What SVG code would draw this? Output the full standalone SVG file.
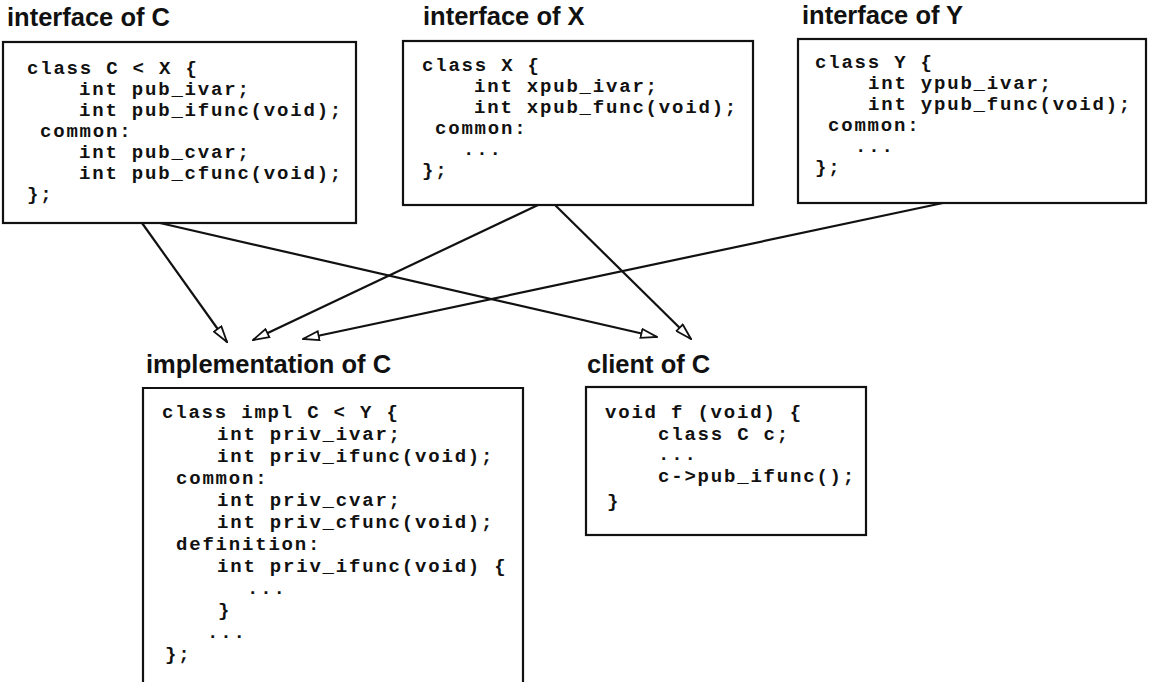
<svg xmlns="http://www.w3.org/2000/svg" width="1153" height="682" viewBox="0 0 1153 682">
<defs>
<style>
.box{fill:#fff;stroke:#111;stroke-width:2.2}
.lbl{font-family:"Liberation Sans",Arial,sans-serif;font-weight:bold;font-size:25.5px;fill:#111}
.code{font-family:"Liberation Mono","Courier New",monospace;font-weight:bold;font-size:19px;letter-spacing:1.8px;fill:#111;white-space:pre}
.conn{stroke:#111;stroke-width:2.2;fill:none;marker-end:url(#tri)}
</style>
<marker id="tri" markerUnits="userSpaceOnUse" viewBox="0 0 18 11" refX="17" refY="5.5" markerWidth="18" markerHeight="11" orient="auto">
<path d="M1,1 L17,5.5 L1,10 z" fill="#fff" stroke="#111" stroke-width="1.8"/>
</marker>
</defs>
<rect width="1153" height="682" fill="#fff"/>

<g id="connectors">
<line class="conn" x1="142" y1="223" x2="227" y2="342"/>
<line class="conn" x1="160" y1="223" x2="657" y2="337"/>
<line class="conn" x1="538" y1="205" x2="253" y2="340"/>
<line class="conn" x1="555" y1="205" x2="691" y2="339"/>
<line class="conn" x1="943" y1="203" x2="303" y2="339"/>
</g>

<g id="interfaceC">
<text class="lbl" x="7" y="26">interface of C</text>
<rect class="box" x="3" y="42" width="353" height="181"/>
<text class="code" x="27" y="74">class C &lt; X {</text>
<text class="code" x="79" y="95">int pub_ivar;</text>
<text class="code" x="79" y="116">int pub_ifunc(void);</text>
<text class="code" x="40" y="137">common:</text>
<text class="code" x="79" y="158">int pub_cvar;</text>
<text class="code" x="79" y="179">int pub_cfunc(void);</text>
<text class="code" x="27" y="200">};</text>
</g>

<g id="interfaceX">
<text class="lbl" x="423" y="25">interface of X</text>
<rect class="box" x="403" y="41" width="350" height="164"/>
<text class="code" x="422" y="71">class X {</text>
<text class="code" x="474" y="92">int xpub_ivar;</text>
<text class="code" x="474" y="113">int xpub_func(void);</text>
<text class="code" x="435" y="134">common:</text>
<text class="code" x="463" y="155">...</text>
<text class="code" x="422" y="176">};</text>
</g>

<g id="interfaceY">
<text class="lbl" x="802" y="24">interface of Y</text>
<rect class="box" x="798" y="39" width="348" height="164"/>
<text class="code" x="815" y="68">class Y {</text>
<text class="code" x="868" y="89">int ypub_ivar;</text>
<text class="code" x="868" y="110">int ypub_func(void);</text>
<text class="code" x="828" y="131">common:</text>
<text class="code" x="855" y="152">...</text>
<text class="code" x="815" y="173">};</text>
</g>

<g id="implementationC">
<text class="lbl" x="146" y="373">implementation of C</text>
<path class="box" d="M143,690 V388 H523 V690"/>
<text class="code" x="162" y="418">class impl C &lt; Y {</text>
<text class="code" x="217" y="440">int priv_ivar;</text>
<text class="code" x="217" y="462">int priv_ifunc(void);</text>
<text class="code" x="176" y="484">common:</text>
<text class="code" x="217" y="506">int priv_cvar;</text>
<text class="code" x="217" y="528">int priv_cfunc(void);</text>
<text class="code" x="176" y="550">definition:</text>
<text class="code" x="217" y="572">int priv_ifunc(void) {</text>
<text class="code" x="247" y="594">...</text>
<text class="code" x="218" y="616">}</text>
<text class="code" x="207" y="638">...</text>
<text class="code" x="165" y="660">};</text>
</g>

<g id="clientC">
<text class="lbl" x="587" y="373">client of C</text>
<rect class="box" x="586" y="387" width="280" height="148"/>
<text class="code" x="605" y="418">void f (void) {</text>
<text class="code" x="658" y="440">class C c;</text>
<text class="code" x="658" y="460">...</text>
<text class="code" x="658" y="482">c-&gt;pub_ifunc();</text>
<text class="code" x="607" y="507">}</text>
</g>
</svg>
